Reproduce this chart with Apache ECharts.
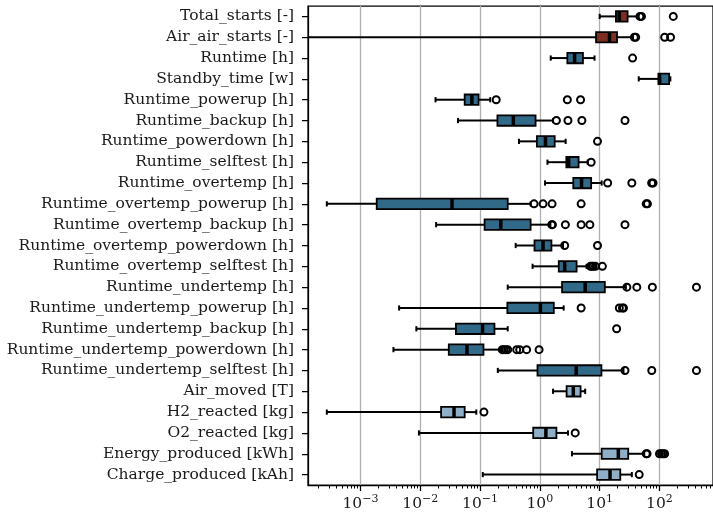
<!DOCTYPE html>
<html>
<head>
<meta charset="utf-8">
<script src="https://cdn.jsdelivr.net/npm/echarts@6/dist/echarts.min.js"></script>
<style>
html,body{margin:0;padding:0;background:#fff;}
#chart{width:713px;height:519px;}
</style>
</head>
<body>
<div id="chart"></div>
<script>
const categories = [
  'Total_starts [-]','Air_air_starts [-]','Runtime [h]','Standby_time [w]',
  'Runtime_powerup [h]','Runtime_backup [h]','Runtime_powerdown [h]','Runtime_selftest [h]',
  'Runtime_overtemp [h]','Runtime_overtemp_powerup [h]','Runtime_overtemp_backup [h]',
  'Runtime_overtemp_powerdown [h]','Runtime_overtemp_selftest [h]','Runtime_undertemp [h]',
  'Runtime_undertemp_powerup [h]','Runtime_undertemp_backup [h]','Runtime_undertemp_powerdown [h]',
  'Runtime_undertemp_selftest [h]','Air_moved [T]','H2_reacted [kg]','O2_reacted [kg]',
  'Energy_produced [kWh]','Charge_produced [kAh]'
];
const whiskerLow  = [10, 0, 1.52, 45, 0.018, 0.0428, 0.447, 1.34, 1.22, 0.000274, 0.0184, 0.394, 0.755, 0.29, 0.00443, 0.0086, 0.00356, 0.198, 1.66, 0.000274, 0.0095, 3.44, 0.111];
const q1          = [18.7, 8.7, 2.88, 96, 0.0553, 0.195, 0.891, 2.77, 3.62, 0.00187, 0.119, 0.813, 2.07, 2.35, 0.286, 0.0395, 0.030, 0.912, 2.8, 0.0223, 0.774, 10.8, 9.06];
const medians     = [21.3, 14.6, 3.81, 100.6, 0.073, 0.36, 1.24, 3.03, 4.98, 0.034, 0.222, 1.13, 2.6, 5.72, 1.02, 0.110, 0.0604, 4.05, 3.62, 0.0367, 1.26, 20.5, 14.9];
const q3          = [29.3, 19.5, 5.25, 145, 0.0944, 0.847, 1.77, 4.44, 7.2, 0.29, 0.70, 1.56, 4.11, 12.2, 1.71, 0.174, 0.114, 10.7, 4.79, 0.0553, 1.89, 30, 22.1];
const whiskerHigh = [45, 36, 8.2, 152, 0.148, 1.66, 2.7, 6.3, 10.8, 0.70, 1.5, 2.44, 6.03, 27.4, 2.5, 0.29, 0.225, 25, 5.72, 0.0865, 2.95, 55.5, 34.5];
const outliers = [
  [47, 50, 170],
  [38, 40, 122, 153],
  [35.5],
  [],
  [0.186, 2.88, 4.79],
  [1.89, 2.95, 5.04, 26.5],
  [9.2],
  [7.2],
  [13.6, 34.5, 74, 78],
  [0.80, 1.13, 1.6, 4.9, 60, 63],
  [1.58, 1.62, 2.67, 4.9, 6.85, 26.5],
  [2.6, 9.2],
  [7.0, 7.4, 7.8, 8.5, 11.1],
  [28.5, 41.8, 76, 415],
  [4.9, 21.3, 24, 25],
  [19.2],
  [0.235, 0.25, 0.27, 0.29, 0.41, 0.46, 0.6, 0.97],
  [26.5, 74.3, 415],
  [],
  [0.116],
  [3.9],
  [60, 62, 100, 108, 115, 122],
  [45.8]
];
const colorGroup = [0,0,1,1,1,1,1,1,1,1,1,1,1,1,1,1,1,1,2,2,2,2,2];
const groupColors = ['#7c2f22', '#316a89', '#8eafc7'];
const majorTicks = [0.001, 0.01, 0.1, 1, 10, 100];
const xMin = 1.327e-4, xMax = 785;

const minorTicks = [];
for (let e = -4; e <= 2; e++) {
  for (let m = 2; m <= 9; m++) {
    const v = m * Math.pow(10, e);
    if (v >= xMin && v <= xMax) minorTicks.push(v);
  }
}
const boxData = categories.map((c, i) => [whiskerLow[i], q1[i], medians[i], q3[i], whiskerHigh[i], i, colorGroup[i]]);
const outlierData = [];
outliers.forEach((arr, i) => arr.forEach(v => outlierData.push([v, i])));

const FONT = 'DejaVu Serif';

const chart = echarts.init(document.getElementById('chart'), null, {renderer: 'canvas'});
chart.setOption({
  animation: false,
  grid: {left: 308, right: -3, top: 6, bottom: 34, show: true, borderColor: '#000', borderWidth: 1.25, containLabel: false},
  xAxis: [{
    type: 'log', min: xMin, max: xMax, position: 'bottom',
    axisLine: {show: true, lineStyle: {color: '#000', width: 1.25}},
    axisTick: {show: true, length: 6, customValues: majorTicks, lineStyle: {color: '#000', width: 1.25}},
    axisLabel: {
      customValues: majorTicks, margin: 9,
      formatter: v => {
        const e = Math.round(Math.log10(v));
        const s = String(e).replace('-', '−');
        return '{b|10}{s|' + s + '}';
      },
      rich: {
        b: {fontFamily: FONT, fontSize: 15.5, color: '#1a1a1a', lineHeight: 20},
        s: {fontFamily: FONT, fontSize: 11, color: '#1a1a1a', verticalAlign: 'top', lineHeight: 10}
      }
    },
    splitLine: {show: true, lineStyle: {color: '#b0b0b0', width: 1.3}}
  }, {
    type: 'log', min: xMin, max: xMax, position: 'bottom',
    axisLine: {show: false},
    axisTick: {show: true, length: 3.5, customValues: minorTicks, lineStyle: {color: '#000', width: 1}},
    axisLabel: {show: false},
    splitLine: {show: false}
  }],
  yAxis: {
    type: 'category', data: categories, inverse: true, boundaryGap: true,
    axisLine: {show: true, lineStyle: {color: '#000', width: 1.25}},
    axisTick: {show: true, length: 6, alignWithLabel: true, lineStyle: {color: '#000', width: 1.25}},
    axisLabel: {fontFamily: FONT, fontSize: 15.5, color: '#1a1a1a', margin: 14, interval: 0},
    splitLine: {show: false}
  },
  series: [{
    type: 'custom',
    xAxisIndex: 0,
    data: boxData,
    encode: {x: [1, 2, 3], y: 5},
    renderItem: function (params, api) {
      const cs = params.coordSys;
      const cat = api.value(5);
      const band = cs.height / categories.length;
      const bh = band * 0.5, ch = band * 0.25;
      const y = api.coord([1, cat])[1];
      const X = v => {
        let x = api.coord([v, cat])[0];
        if (!isFinite(x)) x = cs.x;
        return Math.max(cs.x, x);
      };
      const lo = api.value(0), hi = api.value(4);
      const xl = X(lo), x1 = X(api.value(1)), xm = X(api.value(2)), x3 = X(api.value(3)), xh = X(hi);
      const fill = groupColors[api.value(6)];
      const ls = {stroke: '#000', lineWidth: 2, fill: null};
      const children = [
        {type: 'line', shape: {x1: xl, y1: y, x2: x1, y2: y}, style: ls},
        {type: 'line', shape: {x1: x3, y1: y, x2: xh, y2: y}, style: ls},
        {type: 'rect', shape: {x: x1, y: y - bh / 2, width: x3 - x1, height: bh}, style: {fill: fill, stroke: '#000', lineWidth: 1.8}},
        {type: 'line', shape: {x1: xm, y1: y - bh / 2, x2: xm, y2: y + bh / 2}, style: {stroke: '#000', lineWidth: 3.5}},
        {type: 'line', shape: {x1: xh, y1: y - ch / 2, x2: xh, y2: y + ch / 2}, style: ls}
      ];
      if (lo > 0 && xl > cs.x) {
        children.push({type: 'line', shape: {x1: xl, y1: y - ch / 2, x2: xl, y2: y + ch / 2}, style: ls});
      }
      return {type: 'group', children: children};
    },
    z: 2
  }, {
    type: 'scatter',
    xAxisIndex: 0,
    data: outlierData,
    symbol: 'circle',
    symbolSize: 7,
    itemStyle: {color: 'rgba(0,0,0,0)', borderColor: '#000', borderWidth: 2, opacity: 1},
    z: 3
  }]
});
</script>
</body>
</html>
